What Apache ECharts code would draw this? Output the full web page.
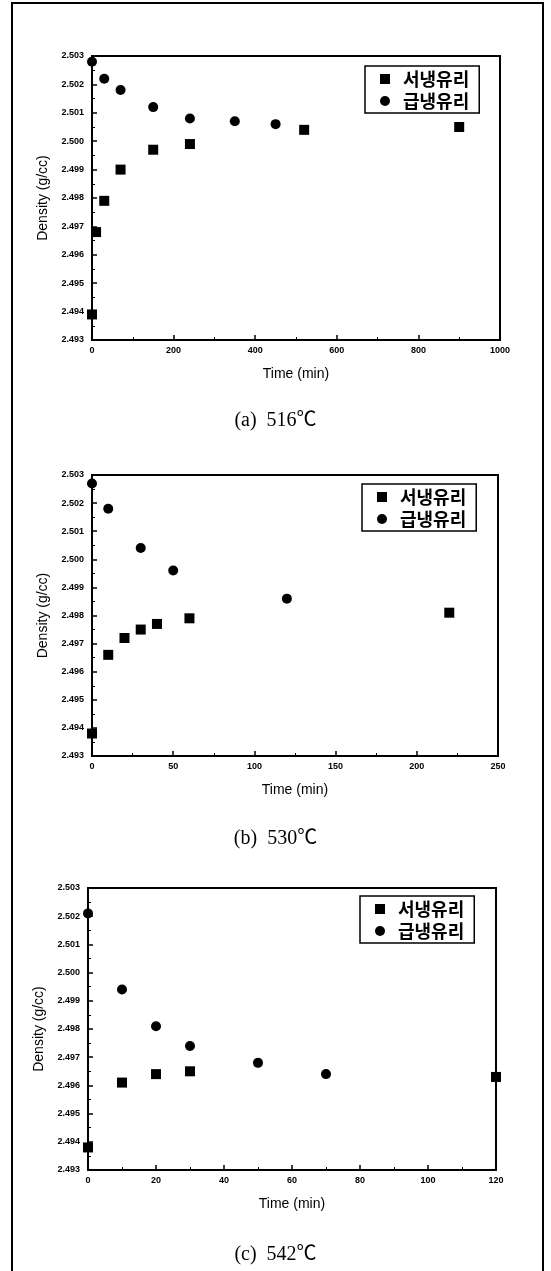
<!DOCTYPE html>
<html>
<head>
<meta charset="utf-8">
<title>Density vs Time</title>
<script src="https://cdn.jsdelivr.net/npm/echarts@6/dist/echarts.min.js"></script>
<style>
    html, body { margin: 0; padding: 0; background: #fff; }
    #chartView { width: 551px; height: 1271px; }
</style>
</head>
<body>
<div id="chartView"></div>
<script>
//(a) 516℃
var timeA_slow = [0, 10, 30, 70, 150, 240, 520, 900];
var densA_slow = [2.4939, 2.4968, 2.4979, 2.4990, 2.4997, 2.4999, 2.5004, 2.5005];
var timeA_fast = [0, 30, 70, 150, 240, 350, 450];
var densA_fast = [2.5028, 2.5022, 2.5018, 2.5012, 2.5008, 2.5007, 2.5006];

//(b) 530℃
var timeB_slow = [0, 10, 20, 30, 40, 60, 220];
var densB_slow = [2.4938, 2.4966, 2.4972, 2.4975, 2.4977, 2.4979, 2.4981];
var timeB_fast = [0, 10, 30, 50, 120];
var densB_fast = [2.5027, 2.5018, 2.5004, 2.4996, 2.4986];

//(c) 542℃
var timeC_slow = [0, 10, 20, 30, 120];
var densC_slow = [2.4938, 2.4961, 2.4964, 2.4965, 2.4963];
var timeC_fast = [0, 10, 20, 30, 50, 70];
var densC_fast = [2.5021, 2.4994, 2.4981, 2.4974, 2.4968, 2.4964];

var seriesNames = ["서냉유리", "급냉유리"];
var captions = ["(a)  516℃", "(b)  530℃", "(c)  542℃"];
var xMax = [1000, 250, 120];
var xStep = [200, 50, 20];
var yMin = 2.493, yMax = 2.503, yStep = 0.001;

//각 그래프 위치
var grids = [
    { left: 92, top: 56, width: 408, height: 284 },
    { left: 92, top: 475, width: 406, height: 281 },
    { left: 88, top: 888, width: 408, height: 282 }
];
var legendPos = [
    { left: 365, top: 66 },
    { left: 362, top: 484 },
    { left: 360, top: 896 }
];
var captionTop = [406, 824, 1240];

function toPairs(xs, ys) {
    var arr = [];
    for (var i = 0; i < xs.length; i++) {
        arr.push([xs[i], ys[i]]);
    }
    return arr;
}

var panels = [
    { slow: toPairs(timeA_slow, densA_slow), fast: toPairs(timeA_fast, densA_fast) },
    { slow: toPairs(timeB_slow, densB_slow), fast: toPairs(timeB_fast, densB_fast) },
    { slow: toPairs(timeC_slow, densC_slow), fast: toPairs(timeC_fast, densC_fast) }
];

function getOption() {
    var option = {
        backgroundColor: "#fff",
        animation: false,
        grid: [],
        xAxis: [],
        yAxis: [],
        legend: [],
        title: [],
        series: [],
        graphic: [{
            type: "rect",
            shape: { x: 12, y: 3, width: 531, height: 1290 },
            style: { fill: "none", stroke: "#000", lineWidth: 2 },
            silent: true
        }]
    };

    for (var i = 0; i < 3; i++) {
        option.grid.push({
            left: grids[i].left,
            top: grids[i].top,
            width: grids[i].width,
            height: grids[i].height,
            show: true,
            borderColor: "#000",
            borderWidth: 2,
            backgroundColor: "transparent"
        });

        option.xAxis.push({
            gridIndex: i,
            type: "value",
            min: 0,
            max: xMax[i],
            interval: xStep[i],
            name: "Time (min)",
            nameLocation: "middle",
            nameGap: 27,
            nameTextStyle: { color: "#000", fontSize: 14, fontFamily: "Liberation Sans, Arial" },
            axisLine: { show: true, lineStyle: { color: "#000", width: 2 } },
            axisTick: { show: true, inside: true, length: 5, lineStyle: { color: "#000", width: 1.5 } },
            minorTick: { show: true, splitNumber: 2, length: 3, lineStyle: { color: "#000", width: 1 } },
            splitLine: { show: false },
            axisLabel: {
                color: "#000", fontSize: 9, fontWeight: "bold", margin: 6,
                fontFamily: "Liberation Sans, Arial",
                formatter: function (v) { return String(v); }
            }
        });

        option.yAxis.push({
            gridIndex: i,
            type: "value",
            min: yMin,
            max: yMax,
            interval: yStep,
            name: "Density (g/cc)",
            nameLocation: "middle",
            nameGap: 42,
            nameTextStyle: { color: "#000", fontSize: 14, fontFamily: "Liberation Sans, Arial" },
            axisLine: { show: true, lineStyle: { color: "#000", width: 2 } },
            axisTick: { show: true, inside: true, length: 5, lineStyle: { color: "#000", width: 1.5 } },
            minorTick: { show: true, splitNumber: 2, length: 3, lineStyle: { color: "#000", width: 1 } },
            splitLine: { show: false },
            axisLabel: {
                color: "#000", fontSize: 9, fontWeight: "bold", margin: 8,
                fontFamily: "Liberation Sans, Arial",
                formatter: function (v) { return v.toFixed(3); }
            }
        });

        option.legend.push({
            left: legendPos[i].left,
            top: legendPos[i].top,
            orient: "vertical",
            backgroundColor: "#fff",
            borderColor: "#000",
            borderWidth: 1.5,
            borderRadius: 0,
            padding: [4, 10, 3, 15],
            itemGap: 4,
            itemWidth: 10,
            itemHeight: 10,
            selectedMode: false,
            itemStyle: { opacity: 1 },
            textStyle: {
                color: "#000", fontSize: 18, fontWeight: "bold", lineHeight: 18,
                fontFamily: "Noto Sans CJK KR", padding: [0, 0, 0, 8]
            },
            data: [
                { name: seriesNames[0], icon: "rect" },
                { name: seriesNames[1], icon: "circle" }
            ]
        });

        option.title.push({
            text: captions[i],
            left: "center",
            top: captionTop[i],
            textStyle: {
                color: "#000", fontSize: 20, fontWeight: "normal",
                fontFamily: "Liberation Serif, Noto Sans CJK KR"
            }
        });

        option.series.push({
            name: seriesNames[0],
            type: "scatter",
            xAxisIndex: i,
            yAxisIndex: i,
            symbol: "rect",
            symbolSize: 10,
            clip: false,
            itemStyle: { color: "#000", opacity: 1 },
            data: panels[i].slow
        });
        option.series.push({
            name: seriesNames[1],
            type: "scatter",
            xAxisIndex: i,
            yAxisIndex: i,
            symbol: "circle",
            symbolSize: 10,
            clip: false,
            itemStyle: { color: "#000", opacity: 1 },
            data: panels[i].fast
        });
    }
    return option;
}

var myChart = echarts.init(document.getElementById("chartView"), null, { renderer: "canvas" });
myChart.setOption(getOption());
</script>
</body>
</html>
